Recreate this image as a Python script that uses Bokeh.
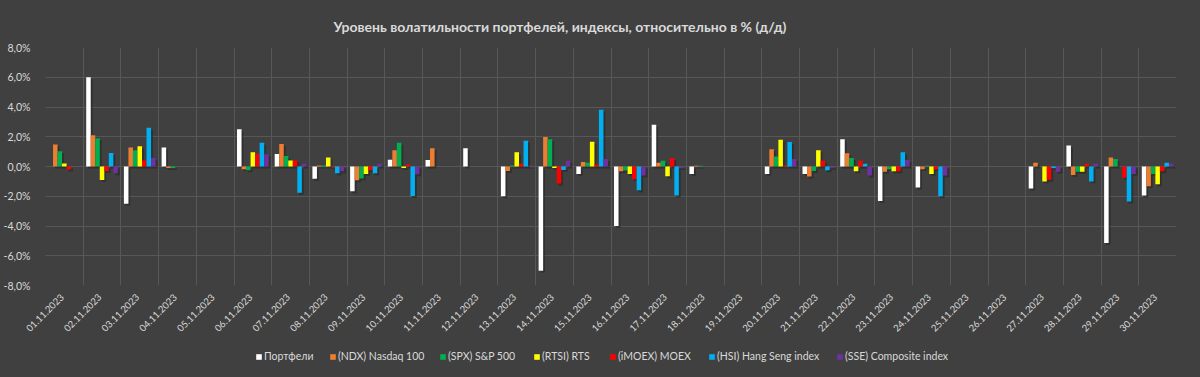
import math
from bokeh.plotting import figure
from bokeh.layouts import column
from bokeh.models import (ColumnDataSource, FixedTicker, Legend, LegendItem,
                          CustomJSTickFormatter, GlobalInlineStyleSheet, Range1d)
from bokeh.transform import dodge
from bokeh.embed import file_html
from bokeh.resources import INLINE

nan = float("nan")

dates = ["01.11.2023", "02.11.2023", "03.11.2023", "04.11.2023", "05.11.2023",
         "06.11.2023", "07.11.2023", "08.11.2023", "09.11.2023", "10.11.2023",
         "11.11.2023", "12.11.2023", "13.11.2023", "14.11.2023", "15.11.2023",
         "16.11.2023", "17.11.2023", "18.11.2023", "19.11.2023", "20.11.2023",
         "21.11.2023", "22.11.2023", "23.11.2023", "24.11.2023", "25.11.2023",
         "26.11.2023", "27.11.2023", "28.11.2023", "29.11.2023", "30.11.2023"]

portfolio = [nan, 6.0, -2.5, 1.27, nan, 2.5, 0.84, -0.82, -1.66, 0.45,
             0.43, 1.23, -2.0, -7.0, -0.5, -4.0, 2.8, -0.5, nan, -0.5,
             -0.5, 1.84, -2.32, -1.41, nan, nan, -1.48, 1.41, -5.14, -1.95]
ndx = [1.48, 2.1, 1.27, -0.1, nan, -0.18, 1.52, 0.07, -0.93, 1.09,
       1.23, nan, -0.3, 1.98, 0.3, -0.32, 0.25, 0.05, nan, 1.16,
       -0.68, 0.89, -0.36, -0.18, nan, nan, 0.25, -0.57, 0.61, -1.32]
spx = [1.02, 1.9, 1.1, -0.1, nan, -0.25, 0.7, 0.07, -0.8, 1.6,
       nan, nan, 0.07, 1.84, 0.25, -0.27, 0.39, 0.05, nan, 0.68,
       -0.3, 0.57, -0.18, 0.05, nan, nan, nan, -0.36, 0.5, -0.5]
rtsi = [0.2, -0.9, 1.36, nan, nan, 0.95, 0.41, 0.6, -0.5, -0.1,
        nan, nan, 0.95, -0.1, 1.66, -0.5, -0.66, nan, nan, 1.8,
        1.09, -0.32, -0.32, -0.5, nan, nan, -1.0, -0.36, nan, -1.2]
moex = [-0.2, -0.3, 0.4, nan, nan, 0.86, 0.41, -0.05, -0.25, 0.14,
        nan, nan, 0.18, -1.14, 0.14, -0.86, 0.57, nan, nan, 0.07,
        0.39, 0.39, -0.32, -0.18, nan, nan, -0.89, 0.18, -0.75, -0.32]
hsi = [nan, 0.9, 2.6, nan, nan, 1.6, -1.77, -0.45, -0.45, -1.98,
       nan, nan, 1.73, -0.23, 3.82, -1.6, -1.95, nan, nan, 1.64,
       -0.25, 0.18, 0.95, -2.0, nan, nan, -0.1, -1.0, -2.36, 0.25]
sse = [nan, -0.45, 0.57, nan, nan, 0.82, 0.18, -0.32, 0.18, -0.52,
       nan, nan, 0.05, 0.39, 0.5, -0.6, -0.1, nan, nan, 0.5,
       -0.09, -0.61, 0.43, -0.61, nan, nan, -0.36, 0.18, -0.5, 0.18]

series_names = ["Портфели", "(NDX) Nasdaq 100", "(SPX) S&P 500", "(RTSI) RTS",
                "(iMOEX) MOEX", "(HSI) Hang Seng index", "(SSE) Composite index"]
series_vals = [portfolio, ndx, spx, rtsi, moex, hsi, sse]
colors = ["#FFFFFF", "#ED7D31", "#00B050", "#FFFF00", "#FF0000", "#00B0F0", "#7030A0"]

title_text = "Уровень волатильности портфелей, индексы, относительно в % (д/д)"

BG = "#404040"
TXT = "#d9d9d9"
GRID = "#575757"
FONT = "Lato"

# legend item screen positions (layout only)
legend_x = [210, 284, 394, 488, 564, 663, 791]

n = len(dates)
centers = [i + 0.5 for i in range(n)]
label_pos = [c - 0.06 for c in centers]
data = {"x": centers, "zero": [0.0] * n}
for k, vals in enumerate(series_vals):
    data[f"s{k}"] = vals
source = ColumnDataSource(data)

p = figure(width=1178, height=345, output_backend="svg", toolbar_location=None,
           x_range=Range1d(0, n), y_range=Range1d(-8, 8),
           background_fill_color=BG, border_fill_color=BG,
           min_border_left=36, min_border_right=2, min_border_top=47,
           min_border_bottom=60, outline_line_color=None)

p.stylesheets = [GlobalInlineStyleSheet(css="body { background-color: #404040; }")]

p.title.text = title_text
p.title.text_font = FONT
p.title.text_font_size = "14px"
p.title.text_font_style = "bold"
p.title.text_color = TXT
p.title.align = "left"
p.title.offset = 288
p.title.standoff = 26

bar_w = 0.12
offsets = [(k - 3) * bar_w for k in range(7)]

for k in range(7):
    col = f"s{k}"
    p.vbar(x=dodge("x", offsets[k] + 0.05, range=p.x_range), width=bar_w,
           top=dodge(col, -0.13, range=p.y_range), bottom=dodge("zero", -0.13, range=p.y_range),
           source=source, fill_color="#222222", fill_alpha=0.55, line_color=None)
for k in range(7):
    col = f"s{k}"
    p.vbar(x=dodge("x", offsets[k], range=p.x_range), width=bar_w, top=col, bottom=0,
           source=source, fill_color=colors[k], line_color=None)

# axes
p.xaxis.ticker = FixedTicker(ticks=label_pos)
p.xaxis.major_label_overrides = {c: d for c, d in zip(label_pos, dates)}
p.xaxis.major_label_orientation = math.pi / 4
p.xaxis.major_label_text_font = FONT
p.xaxis.major_label_text_font_size = "9.5px"
p.xaxis.major_label_text_color = TXT
p.xaxis.major_label_standoff = 4
p.xaxis.axis_line_color = None
p.xaxis.major_tick_line_color = None
p.xaxis.minor_tick_line_color = None

p.yaxis.ticker = FixedTicker(ticks=[-8, -6, -4, -2, 0, 2, 4, 6, 8])
p.yaxis.formatter = CustomJSTickFormatter(code="return tick.toFixed(1).replace('.', ',') + '%';")
p.yaxis.major_label_text_font = FONT
p.yaxis.major_label_text_font_size = "10.5px"
p.yaxis.major_label_text_color = TXT
p.yaxis.major_label_standoff = 9
p.yaxis.axis_line_color = None
p.yaxis.major_tick_line_color = None
p.yaxis.minor_tick_line_color = None

p.xgrid.ticker = FixedTicker(ticks=list(range(n + 1)))
p.xgrid.grid_line_color = GRID
p.ygrid.grid_line_color = GRID

# legend strip
lf = figure(width=1178, height=32, output_backend="svg", toolbar_location=None,
            x_range=Range1d(0, 1), y_range=Range1d(0, 1),
            x_axis_type=None, y_axis_type=None,
            background_fill_color=BG, border_fill_color=BG,
            min_border=0, outline_line_color=None)
lf.grid.visible = False
for k in range(7):
    # proxy glyph placed outside the visible range; only its legend swatch shows
    r = lf.quad(left=[-10], right=[-9], top=[1], bottom=[0],
                fill_color=colors[k], line_color=None)
    lg = Legend(items=[LegendItem(label=series_names[k], renderers=[r])],
                orientation="horizontal", location=(legend_x[k], 15),
                label_text_font=FONT, label_text_font_size="10.5px",
                label_text_color=TXT, glyph_width=7, glyph_height=7,
                label_standoff=2, spacing=0, padding=2, margin=0,
                label_height=12, background_fill_alpha=0, border_line_color=None)
    lf.add_layout(lg, "center")

layout = column(p, lf, spacing=0)
open("out.html", "w").write(file_html(layout, INLINE))
